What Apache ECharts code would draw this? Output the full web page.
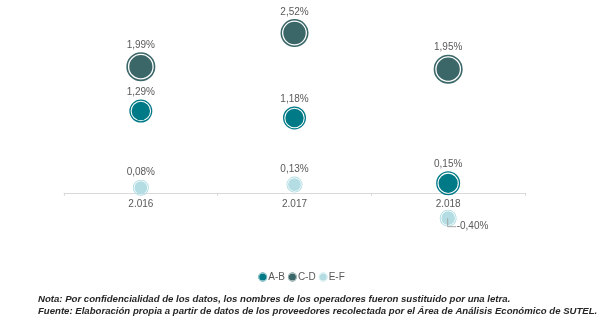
<!DOCTYPE html>
<html>
<head>
<meta charset="utf-8">
<script src="https://cdn.jsdelivr.net/npm/echarts@6/dist/echarts.min.js"></script>
<style>
  html, body { margin: 0; padding: 0; background: #ffffff; }
  #chart { width: 603px; height: 325px; }
</style>
</head>
<body>
<div id="chart"></div>
<script>
// Años (categorías del eje horizontal)
const years = ['2.016', '2.017', '2.018'];

// Variación por grupo de operadores (%)
const seriesNames = ['A-B', 'C-D', 'E-F'];
const valuesAB = [1.29, 1.18, 0.15];
const valuesCD = [1.99, 2.52, 1.95];
const valuesEF = [0.08, 0.13, -0.40];

// Peso relativo de cada burbuja (tercera dimensión)
const weightAB = [529, 529, 576];
const weightCD = [841, 784, 841];
const weightEF = [256, 256, 289];

const notes = [
  'Nota: Por confidencialidad de los datos, los nombres de los operadores fueron sustituido por una letra.',
  'Fuente: Elaboración propia a partir de datos de los proveedores recolectada por el Área de Análisis Económico de SUTEL.'
];

const colors = ['#007a87', '#3b6769', '#b3dde3'];

// Eje vertical: rango y posición del cero
const yMin = -1;
const yMax = 3;

// Burbuja con anillo exterior y hueco blanco interior
const ringSymbol = 'path://M50,0 A50,50 0 1,1 50,100 A50,50 0 1,1 50,0 Z ' +
  'M50,5.5 A44.5,44.5 0 1,0 50,94.5 A44.5,44.5 0 1,0 50,5.5 Z ' +
  'M50,10 A40,40 0 1,1 50,90 A40,40 0 1,1 50,10 Z';

const fmt = v => v.toFixed(2).replace('.', ',') + '%';

function build(name, values, weights, color) {
  return {
    name: name,
    type: 'scatter',
    symbol: ringSymbol,
    symbolSize: d => Math.sqrt(d[2]),
    data: values.map((v, i) => {
      const item = { value: [i, v, weights[i]] };
      if (v < 0) {
        item.label = { position: 'right', distance: 4 };
      }
      return item;
    }),
    itemStyle: { color: color, opacity: 1 },
    label: {
      show: true,
      position: 'top',
      distance: 2,
      color: '#595959',
      fontSize: 10,
      fontFamily: 'Liberation Sans, Arial, sans-serif',
      formatter: p => fmt(p.value[1])
    },
    labelLayout: p => (values[p.dataIndex] < 0 ? { dx: -4, dy: 8 } : {}),
    emphasis: { disabled: true }
  };
}

const chart = echarts.init(document.getElementById('chart'), null, { renderer: 'canvas' });

const gridTop = 2.6;
const gridHeight = 253.6;
// Desplazamiento del eje de categorías hasta la línea del cero
const zeroOffset = -gridHeight * (0 - yMin) / (yMax - yMin);

const allSeries = [
  build(seriesNames[0], valuesAB, weightAB, colors[0]),
  build(seriesNames[1], valuesCD, weightCD, colors[1]),
  build(seriesNames[2], valuesEF, weightEF, colors[2])
];

chart.setOption({
  animation: false,
  backgroundColor: '#ffffff',
  color: colors,
  grid: { left: 64, right: 78, top: gridTop, height: gridHeight, containLabel: false },
  xAxis: {
    type: 'category',
    data: years,
    boundaryGap: true,
    offset: zeroOffset,
    axisLine: { show: true, onZero: false, lineStyle: { color: '#d9d9d9', width: 1 } },
    axisTick: { show: true, length: 3, lineStyle: { color: '#d9d9d9' } },
    axisLabel: { color: '#595959', fontSize: 10, margin: 6, fontFamily: 'Liberation Sans, Arial, sans-serif' },
    splitLine: { show: false }
  },
  yAxis: {
    type: 'value',
    min: yMin,
    max: yMax,
    show: false
  },
  legend: {
    data: seriesNames.map(n => ({ name: n, icon: ringSymbol })),
    bottom: 38,
    left: 'center',
    itemWidth: 9,
    itemHeight: 9,
    itemGap: 3,
    textStyle: {
      color: '#595959', fontSize: 10, fontFamily: 'Liberation Sans, Arial, sans-serif',
      padding: [0, 0, 0, -4]
    }
  },
  graphic: notes.map((t, i) => ({
    id: 'note' + i,
    type: 'text',
    left: 38,
    top: 294 + i * 12,
    style: {
      text: t,
      fill: '#262626',
      font: 'italic bold 9.6px "Liberation Sans", Arial, sans-serif'
    }
  })),
  series: allSeries
});

// Líneas guía desde el centro de las burbujas negativas hasta su etiqueta
const leaders = [];
[valuesAB, valuesCD, valuesEF].forEach((vals, s) => {
  vals.forEach((v, i) => {
    if (v >= 0) return;
    const p = chart.convertToPixel({ seriesIndex: s }, [i, v]);
    leaders.push({
      id: 'leader' + s + '_' + i,
      type: 'polyline',
      z: 100,
      silent: true,
      shape: { points: [[p[0] - 0.5, p[1]], [p[0] - 0.5, p[1] + 8.5], [p[0] + 8, p[1] + 8.5]] },
      style: { stroke: '#a6a6a6', lineWidth: 1, fill: null }
    });
  });
});
chart.setOption({ graphic: leaders });
</script>
</body>
</html>
